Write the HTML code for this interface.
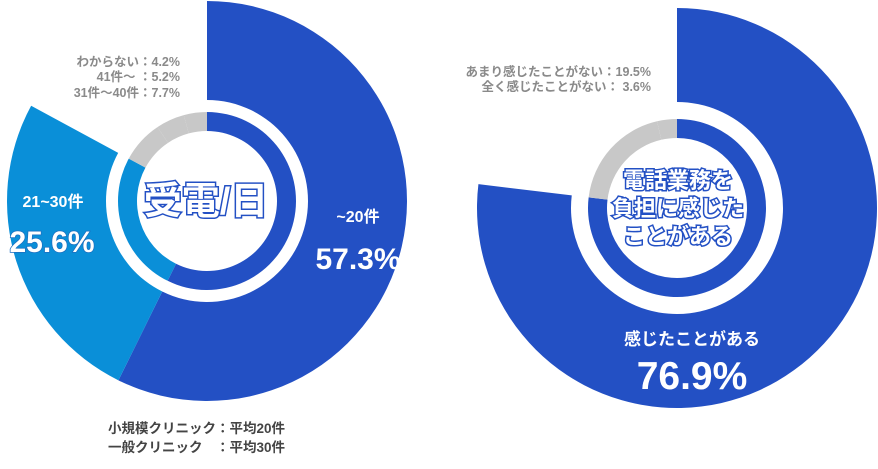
<!DOCTYPE html>
<html><head><meta charset="utf-8"><style>
html,body{margin:0;padding:0;background:#fff;width:878px;height:469px;overflow:hidden}
svg{display:block;font-family:"Liberation Sans","Noto Sans CJK JP",sans-serif;font-weight:bold}
</style></head><body>
<svg id="chart" width="878" height="469" viewBox="0 0 878 469">
<g id="left"></g>
<g id="right"></g>
<g>
<text x="180" y="66" text-anchor="end" font-size="12.5" fill="#8a8a8a">わからない：4.2%</text>
<text x="180" y="81" text-anchor="end" font-size="12.5" fill="#8a8a8a">41件～ ：5.2%</text>
<text x="180" y="97" text-anchor="end" font-size="12.5" fill="#8a8a8a">31件～40件：7.7%</text>
<text x="206" y="214" text-anchor="middle" font-size="38" fill="#fff" stroke="#2350c4" stroke-width="3" paint-order="stroke">受電/日</text>
<text x="358" y="222" text-anchor="middle" font-size="16" fill="#fff">~20件</text>
<text x="358" y="269" text-anchor="middle" font-size="30" fill="#fff">57.3%</text>
<text x="53" y="207" text-anchor="middle" font-size="16" fill="#fff">21~30件</text>
<text x="52" y="252" text-anchor="middle" font-size="30" fill="#fff" stroke="#1c6fc0" stroke-width="1.5" paint-order="stroke">25.6%</text>
<text x="108" y="433" font-size="13.5" fill="#444">小規模クリニック：平均20件</text>
<text x="108" y="452" font-size="13.5" fill="#444" xml:space="preserve">一般クリニック　：平均30件</text>
<text x="651" y="76" text-anchor="end" font-size="12.5" fill="#8a8a8a">あまり感じたことがない：19.5%</text>
<text x="651" y="91" text-anchor="end" font-size="12.5" fill="#8a8a8a">全く感じたことがない：  3.6%</text>
<text x="678" y="188" text-anchor="middle" font-size="22" fill="#fff" stroke="#2350c4" stroke-width="3" paint-order="stroke">電話業務を</text>
<text x="678" y="216" text-anchor="middle" font-size="22" fill="#fff" stroke="#2350c4" stroke-width="3" paint-order="stroke">負担に感じた</text>
<text x="678" y="244" text-anchor="middle" font-size="22" fill="#fff" stroke="#2350c4" stroke-width="3" paint-order="stroke">ことがある</text>
<text x="692" y="345" text-anchor="middle" font-size="17" fill="#fff">感じたことがある</text>
<text x="692" y="389" text-anchor="middle" font-size="39" fill="#fff">76.9%</text>
</g>
</svg>
<script>
const leftCategories = ["~20件","21~30件","31件~40件","41件~","わからない"];
const leftValues = [57.3, 25.6, 7.7, 5.2, 4.2];
const leftColors = ["#2350c4","#0a8fd8","#c8c8c8","#c8c8c8","#c8c8c8"];
const leftOuterShown = [true, true, false, false, false];
const rightCategories = ["感じたことがある","あまり感じたことがない","全く感じたことがない"];
const rightValues = [76.9, 19.5, 3.6];
const rightColors = ["#2350c4","#c8c8c8","#c8c8c8"];
const rightOuterShown = [true, false, false];

const NS = "http://www.w3.org/2000/svg";
function pt(cx, cy, r, pct){ const a = pct/100*2*Math.PI; return [cx + r*Math.sin(a), cy - r*Math.cos(a)]; }
function arcPath(cx, cy, r0, r1, p0, p1){
  const large = (p1-p0) > 50 ? 1 : 0;
  const a = pt(cx,cy,r1,p0), b = pt(cx,cy,r1,p1), c = pt(cx,cy,r0,p1), d = pt(cx,cy,r0,p0);
  return `M${a[0]},${a[1]} A${r1},${r1} 0 ${large} 1 ${b[0]},${b[1]} L${c[0]},${c[1]} A${r0},${r0} 0 ${large} 0 ${d[0]},${d[1]} Z`;
}
function draw(gid, cx, cy, vals, cols, shown, cats, oIn){
  const g = document.getElementById(gid);
  const total = vals.reduce((s,v)=>s+v,0);
  let acc = 0;
  vals.forEach((v,i)=>{
    const p0 = acc/total*100, p1 = (acc+v)/total*100; acc += v;
    if (shown[i]) {
      const o = document.createElementNS(NS,"path");
      o.setAttribute("d", arcPath(cx,cy,oIn,200,p0,p1));
      o.setAttribute("fill", cols[i]);
      
      
      g.appendChild(o);
    }
    const inn = document.createElementNS(NS,"path");
    inn.setAttribute("d", arcPath(cx,cy,70,89,p0,p1));
    inn.setAttribute("fill", cols[i]);
    
    
    g.appendChild(inn);
  });
}
draw("left", 207, 201, leftValues, leftColors, leftOuterShown, leftCategories, 101);
draw("right", 677, 208, rightValues, rightColors, rightOuterShown, rightCategories, 106);
</script>
</body></html>
